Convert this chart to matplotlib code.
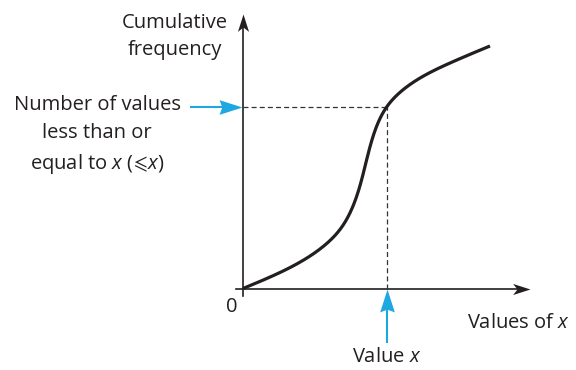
import matplotlib
matplotlib.use("Agg")
import matplotlib.pyplot as plt
from matplotlib.path import Path
import numpy as np

plt.rcParams['font.family'] = ['Open Sans', 'DejaVu Sans']
plt.rcParams['mathtext.fontset'] = 'custom'
plt.rcParams['mathtext.it'] = 'Open Sans:italic'
plt.rcParams['mathtext.rm'] = 'Open Sans'
plt.rcParams['mathtext.fallback'] = 'stixsans'

# cumulative frequency curve (arbitrary units, origin at 0,0)
curve_x = [0, 37, 75, 97, 112, 121.5, 130.5, 144, 167, 207, 247]
curve_y = [0, 16, 38, 59, 87.5, 120, 153.5, 182, 204, 225.5, 242.5]
value_x = 144
value_cf = 182
x_end = 287
y_end = 275

TEXT = '#231f20'
BLUE = '#1ea7e1'


def natural_spline(t, v, tt):
    # natural cubic spline through (t, v), evaluated at tt
    n = len(t)
    h = np.diff(t)
    A = np.zeros((n, n))
    r = np.zeros(n)
    A[0, 0] = A[-1, -1] = 1
    for i in range(1, n - 1):
        A[i, i - 1] = h[i - 1]
        A[i, i] = 2 * (h[i - 1] + h[i])
        A[i, i + 1] = h[i]
        r[i] = 6 * ((v[i + 1] - v[i]) / h[i] - (v[i] - v[i - 1]) / h[i - 1])
    m = np.linalg.solve(A, r)
    k = np.clip(np.searchsorted(t, tt) - 1, 0, n - 2)
    a = (t[k + 1] - tt) / h[k]
    b = (tt - t[k]) / h[k]
    return (a * v[k] + b * v[k + 1]
            + ((a ** 3 - a) * m[k] + (b ** 3 - b) * m[k + 1]) * h[k] ** 2 / 6)


def smooth_curve(xs, ys, n=600):
    xs = np.asarray(xs, float)
    ys = np.asarray(ys, float)
    t = np.concatenate([[0], np.cumsum(np.hypot(np.diff(xs), np.diff(ys)))])
    tt = np.linspace(0, t[-1], n)
    return natural_spline(t, xs, tt), natural_spline(t, ys, tt)


def head(angle, notch):
    # arrowhead marker, tip at the origin, pointing along angle (deg)
    v = np.array([(0, 0), (-1, 0.32), (-notch, 0), (-1, -0.32), (0, 0)])
    r = np.deg2rad(angle)
    rot = np.array([[np.cos(r), -np.sin(r)], [np.sin(r), np.cos(r)]])
    return Path(v @ rot.T, [Path.MOVETO, Path.LINETO, Path.LINETO, Path.LINETO, Path.CLOSEPOLY])


fig = plt.figure(figsize=(5.76, 3.70), dpi=100)
ax = fig.add_axes([0, 0, 1, 1])
ax.set_xlim(-243, 576 - 243)
ax.set_ylim(-(370 - 288.5), 288.5)
ax.axis('off')

# axes
ax.plot([-7, x_end - 8], [0, 0], color=TEXT, lw=1.2)
ax.plot([0, 0], [-7, y_end - 8], color=TEXT, lw=1.2)
ax.plot([x_end], [0], marker=head(0, 0.75), ms=25, color=TEXT, mew=0)
ax.plot([0], [y_end], marker=head(90, 0.75), ms=25, color=TEXT, mew=0)

# dashed guide lines
ax.plot([0, value_x], [value_cf, value_cf], color='#333333', lw=0.9, ls=(0, (4, 2.5)))
ax.plot([value_x, value_x], [0, value_cf], color='#333333', lw=0.9, ls=(0, (4, 2.5)))

# curve
cx, cy = smooth_curve(curve_x, curve_y)
ax.plot(cx, cy, color=TEXT, lw=2.3, solid_capstyle='butt')

# blue pointers
ax.plot([-52, -10], [value_cf, value_cf], color=BLUE, lw=1.5)
ax.plot([value_x, value_x], [-53, -10], color=BLUE, lw=1.5)
ax.plot([-1], [value_cf], marker=head(0, 0.88), ms=33, color=BLUE, mew=0)
ax.plot([value_x], [0], marker=head(90, 0.88), ms=33, color=BLUE, mew=0)

fs = 14.5
ax.text(-68, 252, 'Cumulative\nfrequency', ha='center', va='center', fontsize=fs,
        color=TEXT, linespacing=1.5)
ax.text(-146, value_cf - 29, 'Number of values\nless than or\nequal to $x$ ($\\!\\leqslant\\!x$)',
        ha='center', va='center', fontsize=fs, color=TEXT, linespacing=1.55)
ax.text(-11, -18, '0', ha='center', va='center', fontsize=fs, color=TEXT)
ax.text(224, -34, 'Values of $x$', ha='left', va='center', fontsize=fs, color=TEXT)
ax.text(value_x, -69, 'Value $x$', ha='center', va='center', fontsize=fs, color=TEXT)

fig.savefig('out.png', dpi=100)
